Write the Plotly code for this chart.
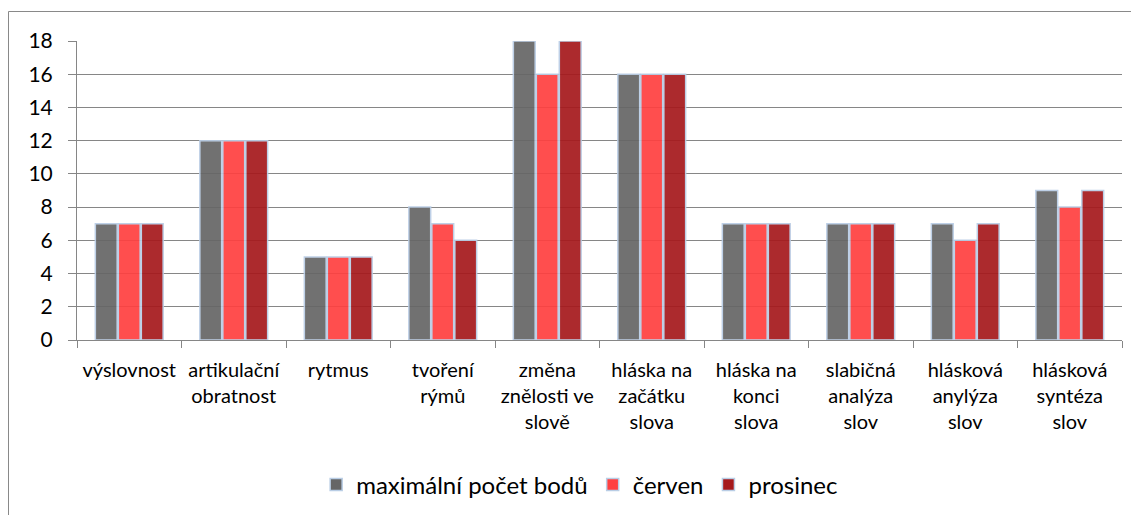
import plotly.graph_objects as go

categories = [
    "výslovnost", "artikulační<br>obratnost", "rytmus", "tvoření<br>rýmů",
    "změna<br>znělosti ve<br>slově", "hláska na<br>začátku<br>slova",
    "hláska na<br>konci<br>slova", "slabičná<br>analýza<br>slov",
    "hlásková<br>anylýza<br>slov", "hlásková<br>syntéza<br>slov",
]
max_body = [7, 12, 5, 8, 18, 16, 7, 7, 7, 9]
cerven = [7, 12, 5, 7, 16, 16, 7, 7, 6, 8]
prosinec = [7, 12, 5, 6, 18, 16, 7, 7, 7, 9]
y_ticks = [0, 2, 4, 6, 8, 10, 12, 14, 16, 18]

series = [
    ("maximální počet bodů", max_body, "#666666"),
    ("červen", cerven, "#FF4040"),
    ("prosinec", prosinec, "#A6191C"),
]

FONT = "Lato, 'Open Sans', sans-serif"

fig = go.Figure()
for name, vals, col in series:
    fig.add_trace(go.Bar(
        x=categories, y=vals, name=name,
        marker=dict(color=col, opacity=0.92,
                    line=dict(color="#B9CDE5", width=1.5)),
    ))

# page body has an 8px margin, so the figure starts at (8, 8) in the window
OFF = 8
W, H = 1139 - OFF, 515 - OFF
L, T = 77 - OFF, 41 - OFF
R = 1139 - 1122
B = H - (340 - OFF)
pw, ph = W - L - R, H - T - B

fig.update_layout(
    width=W, height=H,
    margin=dict(l=L, r=R, t=T, b=B, autoexpand=False),
    plot_bgcolor="white", paper_bgcolor="white",
    barmode="group", bargap=0.34, bargroupgap=0.05,
    font=dict(family=FONT, size=20, color="#000000"),
    showlegend=True,
    legend=dict(orientation="h", x=0.481, xanchor="center",
                y=-(485 - 340) / ph, yanchor="middle",
                font=dict(size=24)),
    xaxis=dict(
        automargin=False,
        showline=True, linecolor="#868686", linewidth=1,
        ticks="outside", tickson="boundaries", ticklen=7,
        tickcolor="#868686", showgrid=False,
        tickfont=dict(size=20), ticklabelstandoff=12,
    ),
    yaxis=dict(
        automargin=False,
        range=[0, 18], tickvals=y_ticks,
        showgrid=True, gridcolor="#868686", gridwidth=1,
        showline=True, linecolor="#868686", linewidth=1,
        ticks="outside", ticklen=8, tickcolor="#868686",
        zeroline=False, tickfont=dict(size=21), ticklabelstandoff=11,
    ),
    shapes=[dict(
        type="path", xref="paper", yref="paper",
        path=f"M {(0.5 - L) / pw} {-(H - T + 10) / ph + 1} L {(0.5 - L) / pw} {1 + (T - 3.5) / ph} L {(W + 10 - L) / pw} {1 + (T - 3.5) / ph}",
        line=dict(color="#898989", width=1),
    )],
)

fig.write_html("out.html")
